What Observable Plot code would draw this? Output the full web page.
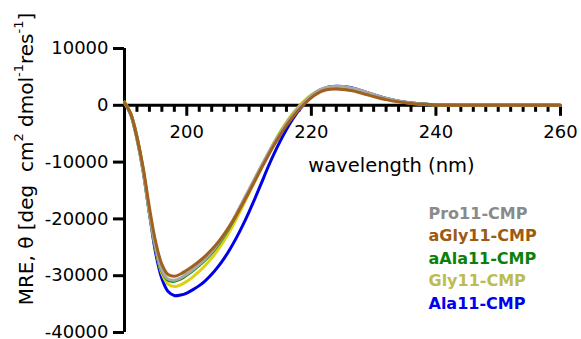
<!DOCTYPE html>
<html>
<head>
<meta charset="utf-8">
<script src="https://cdn.jsdelivr.net/npm/d3@7"></script>
<script src="https://cdn.jsdelivr.net/npm/@observablehq/plot@0.6"></script>
<style>
  body { margin: 0; background: #fff; }
  #chart { width: 581px; height: 339px; }
  svg { font-family: "DejaVu Sans", "Liberation Sans", Arial, sans-serif; }
</style>
</head>
<body>
<div id="chart"></div>
<script>
// Wavelengths (nm) shared by all series
const wavelength = [190,191,192,193,194,195,196,197,198,199,200,201,202,203,204,205,206,207,208,209,210,211,212,213,214,215,216,217,218,219,220,221,222,223,224,225,226,227,228,229,230,232,234,236,238,240,245,250,255,260];

// Series names (legend order) and colours
const seriesNames = ["Pro11-CMP", "aGly11-CMP", "aAla11-CMP", "Gly11-CMP", "Ala11-CMP"];
const lineColors  = ["#a8a8a8", "#a0601e", "#119011", "#e0d010", "#0000e6"];
const textColors  = ["#8a8a8a", "#9c5a14", "#0a820a", "#bcbc50", "#0000f0"];
// drawing order (first drawn = bottom)
const drawOrder = ["Ala11-CMP", "Gly11-CMP", "aAla11-CMP", "Pro11-CMP", "aGly11-CMP"];

// MRE values, deg cm2 dmol-1 res-1
const pro11 = [400,-1700,-6000,-11800,-19000,-25000,-29000,-30600,-30800,-30400,-29700,-28900,-28000,-27000,-25800,-24400,-22800,-21000,-19000,-16900,-14800,-12700,-10600,-8600,-6700,-4900,-3200,-1700,-400,700,1700,2500,3000,3250,3350,3300,3150,2900,2600,2250,1900,1250,750,420,220,100,20,0,0,0];
const aGly11 = [500,-1500,-5700,-11000,-18000,-24000,-28000,-29800,-30100,-29700,-29050,-28300,-27450,-26500,-25400,-24150,-22700,-21050,-19250,-17300,-15250,-13150,-11050,-9000,-7050,-5250,-3600,-2100,-800,350,1350,2100,2600,2820,2870,2800,2650,2450,2150,1850,1550,1000,600,330,170,70,10,0,0,0];
const aAla11 = [450,-1650,-5900,-11700,-19000,-25200,-29200,-30800,-31000,-30600,-29900,-29100,-28200,-27200,-26000,-24600,-23000,-21200,-19200,-17100,-15000,-12850,-10750,-8700,-6750,-4950,-3250,-1750,-450,650,1650,2450,2950,3200,3300,3250,3100,2850,2550,2200,1850,1220,730,410,210,90,20,0,0,0];
const gly11 = [600,-1400,-5500,-11200,-18800,-25300,-29600,-31500,-31900,-31600,-31000,-30200,-29250,-28150,-26900,-25450,-23800,-21950,-19900,-17700,-15450,-13150,-10850,-8650,-6550,-4650,-2950,-1450,-150,950,1850,2500,2900,3100,3150,3100,2950,2700,2400,2050,1700,1100,650,350,180,70,10,0,0,0];
const ala11 = [500,-1500,-5500,-11500,-19000,-26000,-30500,-32800,-33500,-33400,-33050,-32450,-31750,-30850,-29750,-28450,-26950,-25200,-23250,-21100,-18750,-16250,-13650,-11000,-8550,-6300,-4250,-2450,-900,400,1450,2300,2900,3250,3350,3320,3180,2920,2580,2220,1870,1220,720,410,210,90,15,0,0,0];

const seriesValues = {"Pro11-CMP": pro11, "aGly11-CMP": aGly11, "aAla11-CMP": aAla11, "Gly11-CMP": gly11, "Ala11-CMP": ala11};

// Axis ticks
const yTicks = [10000, 0, -10000, -20000, -30000, -40000];
const xMajor = [200, 220, 240, 260];
const xMinor = d3.range(192, 261, 2).filter(d => !xMajor.includes(d));
const xDomain = [190, 260];

const data = drawOrder.flatMap(name =>
  wavelength.map((w, i) => ({series: name, wavelength: w, mre: seriesValues[name][i]})));

const colorOf = Object.fromEntries(seriesNames.map((n, i) => [n, lineColors[i]]));

const legendMarks = seriesNames.map((name, i) =>
  Plot.text([name], {
    frameAnchor: "top-left", dx: 304, dy: 165 + i * 22.6,
    text: d => d, fill: textColors[i], fontWeight: "bold", fontSize: 16,
    textAnchor: "start", lineAnchor: "middle"
  }));

const chart = Plot.plot({
  width: 581,
  height: 339,
  marginLeft: 124,
  marginRight: 21,
  marginTop: 48,
  marginBottom: 7,
  style: {fontFamily: '"DejaVu Sans", "Liberation Sans", Arial, sans-serif', fontSize: "18px", color: "#000", background: "#fff"},
  x: {domain: xDomain, axis: null},
  y: {domain: [d3.min(yTicks), d3.max(yTicks)], axis: null},
  marks: [
    // Y axis
    Plot.axisY({ticks: yTicks, tickSize: 11, tickPadding: 5, tickFormat: d => String(d), strokeWidth: 3, fontSize: 18, label: null, anchor: "left"}),
    Plot.ruleX([xDomain[0]], {y1: d3.min(yTicks), y2: d3.max(yTicks), strokeWidth: 3, stroke: "#000"}),
    // X axis along y = 0
    Plot.ruleY([0], {x1: xDomain[0], x2: xDomain[1], strokeWidth: 3, stroke: "#000"}),
    Plot.ruleX(xMinor, {y1: 0, y2: 0, insetBottom: -7, strokeWidth: 3, stroke: "#000"}),
    Plot.ruleX(xMajor, {y1: 0, y2: 0, insetBottom: -11, strokeWidth: 3, stroke: "#000"}),
    Plot.text(xMajor, {x: d => d, y: () => 0, dy: 27, text: d => String(d), fontSize: 18, fill: "#000"}),
    // Curves
    Plot.line(data, {x: "wavelength", y: "mre", z: "series", stroke: d => colorOf[d.series], strokeWidth: 3, curve: "catmull-rom"}),
    // Axis title
    Plot.text(["wavelength (nm)"], {frameAnchor: "top-left", dx: 267, dy: 117, text: d => d, fontSize: 19.5, fill: "#000", textAnchor: "middle", lineAnchor: "middle"}),
    ...legendMarks
  ]
});

document.getElementById("chart").appendChild(chart);

// Rotated y-axis title with superscripts
const svg = d3.select(chart);
const ylab = svg.append("text")
  .attr("transform", "translate(26,159) rotate(-90)")
  .attr("text-anchor", "middle")
  .attr("dominant-baseline", "central")
  .attr("font-size", 20)
  .attr("fill", "#000");
const parts = [["MRE, \u03B8 [deg  cm", false], ["2", true], [" dmol", false], ["-1", true], ["res", false], ["-1", true], ["]", false]];
parts.forEach(([t, sup]) => {
  const ts = ylab.append("tspan").text(t);
  if (sup) ts.attr("font-size", 13).attr("baseline-shift", "super");
});
</script>
</body>
</html>
